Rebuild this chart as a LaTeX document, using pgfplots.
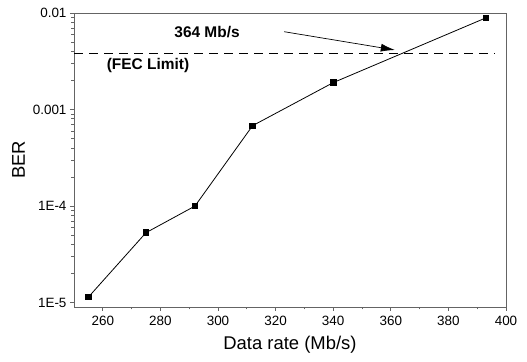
\documentclass[border=0pt]{standalone}
\usepackage{pgfplots}
\pgfplotsset{compat=1.18}
\usepackage{fontspec}
\setmainfont{Liberation Sans}
\usetikzlibrary{arrows.meta}
\definecolor{axgray}{RGB}{100,100,100}
\begin{document}
\begin{tikzpicture}
\begin{axis}[
  scale only axis,
  width=432bp, height=294bp,
  ymode=log,
  xmin=250, xmax=400,
  ymin=9e-6, ymax=0.01,
  xtick={260,280,...,400},
  minor x tick num=1,
  ytick={1e-5,1e-4,1e-3,1e-2},
  yticklabels={1E-5,1E-4,0.001,0.01},
  tick pos=left,
  tick align=outside,
  major tick length=4bp,
  minor tick length=2.5bp,
  axis line style={axgray, line width=0.9pt},
  every tick/.style={axgray, line width=0.8pt},
  tick label style={font=\fontsize{13.5}{15}\selectfont},
  xticklabel style={yshift=-1.5bp},
  /pgf/number format/assume math mode=true,
  xlabel={Data rate (Mb/s)},
  ylabel={BER},
  label style={font=\fontsize{18.5}{21}\selectfont},
  xlabel style={yshift=-4bp},
  ylabel style={yshift=1bp},
  clip=false,
]
\addplot[black, line width=0.8pt, mark=square*, mark size=2.8bp] coordinates {
  (255,1.14e-5) (275,5.3e-5) (292,1.0e-4) (312,6.8e-4) (340,1.9e-3) (393,8.9e-3)
};
\addplot[black, line width=1.4pt, dash pattern=on 9bp off 6bp] coordinates {
  (250,3.8e-3) (396,3.8e-3)
};
\addplot[black, line width=0.7pt, -{Latex[length=14bp,width=8bp]}] coordinates {
  (323,6.4e-3) (361.4,4.14e-3)
};
\node[font=\fontsize{15.5}{17}\selectfont\bfseries] at (axis cs:296.2,6.35e-3) {364 Mb/s};
\node[font=\fontsize{15.5}{17}\selectfont\bfseries] at (axis cs:275.7,2.89e-3) {(FEC Limit)};
\end{axis}
\path (current axis.south west) ++(-74bp,-55bp) (current axis.north east) ++(21bp,13bp);
\end{tikzpicture}
\end{document}
